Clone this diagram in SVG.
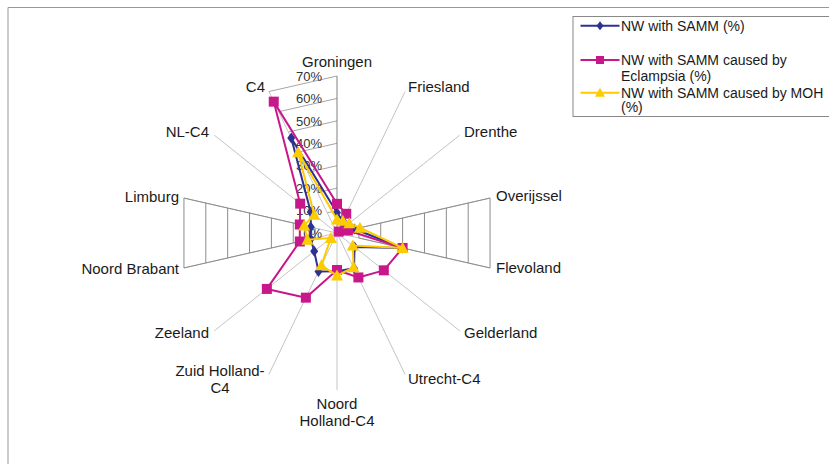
<svg xmlns="http://www.w3.org/2000/svg" xmlns:xlink="http://www.w3.org/1999/xlink" width="829" height="464" viewBox="0 0 829 464">
<defs>
<style>
.axis{stroke:#c4c4c4;stroke-width:1;fill:none}
.vaxis{stroke:#808080;stroke-width:1;fill:none}
.grid{stroke:#8c8c8c;stroke-width:1;fill:none}
.grid2{stroke:#a6a6a6;stroke-width:1;fill:none}
.lbl{font-family:"Liberation Sans",Arial,sans-serif;font-size:15px;fill:#1a1a1a}
.tick{font-family:"Liberation Sans",Arial,sans-serif;font-size:13px;fill:#333}
.leg{font-family:"Liberation Sans",Arial,sans-serif;font-size:14px;fill:#1a1a1a}
.sN{stroke:#2e3092;stroke-width:2;fill:none;stroke-linejoin:round}
.sE{stroke:#c8178b;stroke-width:2;fill:none;stroke-linejoin:round}
.sM{stroke:#fccb00;stroke-width:2;fill:none;stroke-linejoin:round}
.mN{fill:#2e3092}
.mE{fill:#c8178b}
.mM{fill:#fccb00}
</style>
<path id="dia" d="M0,-5.5 L4,0 L0,5.5 L-4,0 Z"/>
<rect id="sq" x="-5" y="-5" width="10" height="10"/>
<path id="tri" d="M0,-6 L6,5 L-6,5 Z"/>
<path id="diaS" d="M0,-4.5 L3.5,0 L0,4.5 L-3.5,0 Z"/>
<rect id="sqS" x="-4" y="-4" width="8" height="8"/>
<path id="triS" d="M0,-5 L5,4 L-5,4 Z"/>
</defs>
<rect width="829" height="464" fill="#fff"/>
<path d="M8,470 V7.5 H840" stroke="#999" stroke-width="1" fill="none"/>

<g id="axes">
<line class="axis" x1="337" y1="233" x2="405.12" y2="91.55"/>
<line class="axis" x1="337" y1="233" x2="459.75" y2="135.11"/>
<line class="axis" x1="337" y1="233" x2="490.06" y2="198.06"/>
<line class="axis" x1="337" y1="233" x2="490.06" y2="267.94"/>
<line class="axis" x1="337" y1="233" x2="459.75" y2="330.89"/>
<line class="axis" x1="337" y1="233" x2="405.12" y2="374.45"/>
<line class="axis" x1="337" y1="233" x2="337" y2="390"/>
<line class="axis" x1="337" y1="233" x2="268.88" y2="374.45"/>
<line class="axis" x1="337" y1="233" x2="214.25" y2="330.89"/>
<line class="axis" x1="337" y1="233" x2="183.94" y2="267.94"/>
<line class="axis" x1="337" y1="233" x2="183.94" y2="198.06"/>
<line class="axis" x1="337" y1="233" x2="214.25" y2="135.11"/>
<line class="axis" x1="337" y1="233" x2="268.88" y2="91.55"/>
</g>

<g id="gridlines">
<path class="grid2" d="M327.27,212.79 L337,210.57 M317.54,192.58 L337,188.14 M307.80,172.37 L337,165.71 M298.08,152.17 L337,143.29 M288.35,131.97 L337,120.86 M278.61,111.76 L337,98.43 M268.88,91.55 L337,76"/>
<path class="grid" d="M358.87,228.01 L490.06,198.06 M358.87,237.99 L490.06,267.94 M358.87,228.01 V237.99 M380.73,223.02 V242.98 M402.60,218.03 V247.97 M424.46,213.04 V252.96 M446.33,208.05 V257.95 M468.20,203.06 V262.94 M490.06,198.06 V267.94"/>
<path class="grid" d="M315.13,228.01 L183.94,198.06 M315.13,237.99 L183.94,267.94 M315.13,228.01 V237.99 M293.27,223.02 V242.98 M271.40,218.03 V247.97 M249.54,213.04 V252.96 M227.67,208.05 V257.95 M205.80,203.06 V262.94 M183.94,198.06 V267.94"/>
<line class="vaxis" x1="337" y1="233" x2="337" y2="76"/>
</g>

<g id="ticks">
<text class="tick" x="322" y="80.6" text-anchor="end">70%</text>
<text class="tick" x="322" y="103" text-anchor="end">60%</text>
<text class="tick" x="322" y="125.5" text-anchor="end">50%</text>
<text class="tick" x="322" y="147.9" text-anchor="end">40%</text>
<text class="tick" x="322" y="170.3" text-anchor="end">30%</text>
<text class="tick" x="322" y="192.7" text-anchor="end">20%</text>
<text class="tick" x="322" y="215.2" text-anchor="end">10%</text>
<text class="tick" x="322" y="237.6" text-anchor="end">0%</text>
</g>

<g id="labels">
<text class="lbl" x="337" y="67" text-anchor="middle">Groningen</text>
<text class="lbl" x="408" y="92">Friesland</text>
<text class="lbl" x="464" y="137">Drenthe</text>
<text class="lbl" x="496" y="201">Overijssel</text>
<text class="lbl" x="496" y="273">Flevoland</text>
<text class="lbl" x="464" y="338">Gelderland</text>
<text class="lbl" x="408" y="384">Utrecht-C4</text>
<text class="lbl" x="337" y="409" text-anchor="middle">Noord</text>
<text class="lbl" x="337" y="426" text-anchor="middle">Holland-C4</text>
<text class="lbl" x="220" y="375.5" text-anchor="middle">Zuid Holland-</text>
<text class="lbl" x="220" y="393" text-anchor="middle">C4</text>
<text class="lbl" x="209" y="338" text-anchor="end">Zeeland</text>
<text class="lbl" x="179" y="274" text-anchor="end">Noord Brabant</text>
<text class="lbl" x="179" y="202" text-anchor="end">Limburg</text>
<text class="lbl" x="209" y="137" text-anchor="end">NL-C4</text>
<text class="lbl" x="265" y="92" text-anchor="end">C4</text>
</g>

<g id="series-samm">
<polygon class="sN" points="337,212.81 342.84,220.87 345.77,226.01 354.49,229.01 402.60,247.97 354.54,246.98 354.03,268.36 337,271.13 318.51,271.39 314.20,251.18 310.76,238.99 310.76,227.01 310.70,212.02 291.26,138.03"/>
<g class="mN">
<use xlink:href="#dia" x="337" y="212.81"/><use xlink:href="#dia" x="342.84" y="220.87"/><use xlink:href="#dia" x="345.77" y="226.01"/><use xlink:href="#dia" x="354.49" y="229.01"/><use xlink:href="#dia" x="402.60" y="247.97"/><use xlink:href="#dia" x="354.54" y="246.98"/><use xlink:href="#dia" x="354.03" y="268.36"/><use xlink:href="#dia" x="337" y="271.13"/><use xlink:href="#dia" x="318.51" y="271.39"/><use xlink:href="#dia" x="314.20" y="251.18"/><use xlink:href="#dia" x="310.76" y="238.99"/><use xlink:href="#dia" x="310.76" y="227.01"/><use xlink:href="#dia" x="310.70" y="212.02"/><use xlink:href="#dia" x="291.26" y="138.03"/>
</g>
</g>

<g id="series-eclampsia">
<polygon class="sE" points="337,203.84 346.24,213.80 338.75,231.60 347.93,230.51 402.60,247.97 383.82,270.34 358.41,277.45 337,270.01 305.86,297.66 266.86,288.93 299.83,241.48 299.83,224.52 300.18,203.63 273.75,101.65"/>
<g class="mE">
<use xlink:href="#sq" x="337" y="203.84"/><use xlink:href="#sq" x="346.24" y="213.80"/><use xlink:href="#sq" x="338.75" y="231.60"/><use xlink:href="#sq" x="347.93" y="230.51"/><use xlink:href="#sq" x="402.60" y="247.97"/><use xlink:href="#sq" x="383.82" y="270.34"/><use xlink:href="#sq" x="358.41" y="277.45"/><use xlink:href="#sq" x="337" y="270.01"/><use xlink:href="#sq" x="305.86" y="297.66"/><use xlink:href="#sq" x="266.86" y="288.93"/><use xlink:href="#sq" x="299.83" y="241.48"/><use xlink:href="#sq" x="299.83" y="224.52"/><use xlink:href="#sq" x="300.18" y="203.63"/><use xlink:href="#sq" x="273.75" y="101.65"/>
</g>
</g>

<g id="series-moh">
<polygon class="sM" points="337,219.54 342.84,220.87 349.27,223.21 359.96,227.76 402.60,247.97 352.78,245.59 353.54,267.35 337,275.61 321.43,265.33 330.86,237.89 307.48,239.74 304.20,225.51 314.20,214.82 298.08,152.17"/>
<g class="mM">
<use xlink:href="#tri" x="337" y="219.54"/><use xlink:href="#tri" x="342.84" y="220.87"/><use xlink:href="#tri" x="349.27" y="223.21"/><use xlink:href="#tri" x="359.96" y="227.76"/><use xlink:href="#tri" x="402.60" y="247.97"/><use xlink:href="#tri" x="352.78" y="245.59"/><use xlink:href="#tri" x="353.54" y="267.35"/><use xlink:href="#tri" x="337" y="275.61"/><use xlink:href="#tri" x="321.43" y="265.33"/><use xlink:href="#tri" x="330.86" y="237.89"/><use xlink:href="#tri" x="307.48" y="239.74"/><use xlink:href="#tri" x="304.20" y="225.51"/><use xlink:href="#tri" x="314.20" y="214.82"/><use xlink:href="#tri" x="298.08" y="152.17"/>
</g>
</g>

<g id="legend">
<rect x="573" y="16.5" width="270" height="100" fill="#fff" stroke="#888" stroke-width="1"/>
<line class="sN" x1="580.5" y1="25.7" x2="619.5" y2="25.7"/>
<use class="mN" xlink:href="#diaS" x="600" y="25.7"/>
<text class="leg" x="621" y="30.7">NW with SAMM (%)</text>
<line class="sE" x1="580.5" y1="60" x2="619.5" y2="60"/>
<use class="mE" xlink:href="#sqS" x="600" y="60"/>
<text class="leg" x="621" y="64.5">NW with SAMM caused by</text>
<text class="leg" x="621" y="80.5">Eclampsia (%)</text>
<line class="sM" x1="580.5" y1="92.7" x2="619.5" y2="92.7"/>
<use class="mM" xlink:href="#triS" x="600" y="92.7"/>
<text class="leg" x="621" y="97.5">NW with SAMM caused by MOH</text>
<text class="leg" x="621" y="112">(%)</text>
</g>
</svg>
